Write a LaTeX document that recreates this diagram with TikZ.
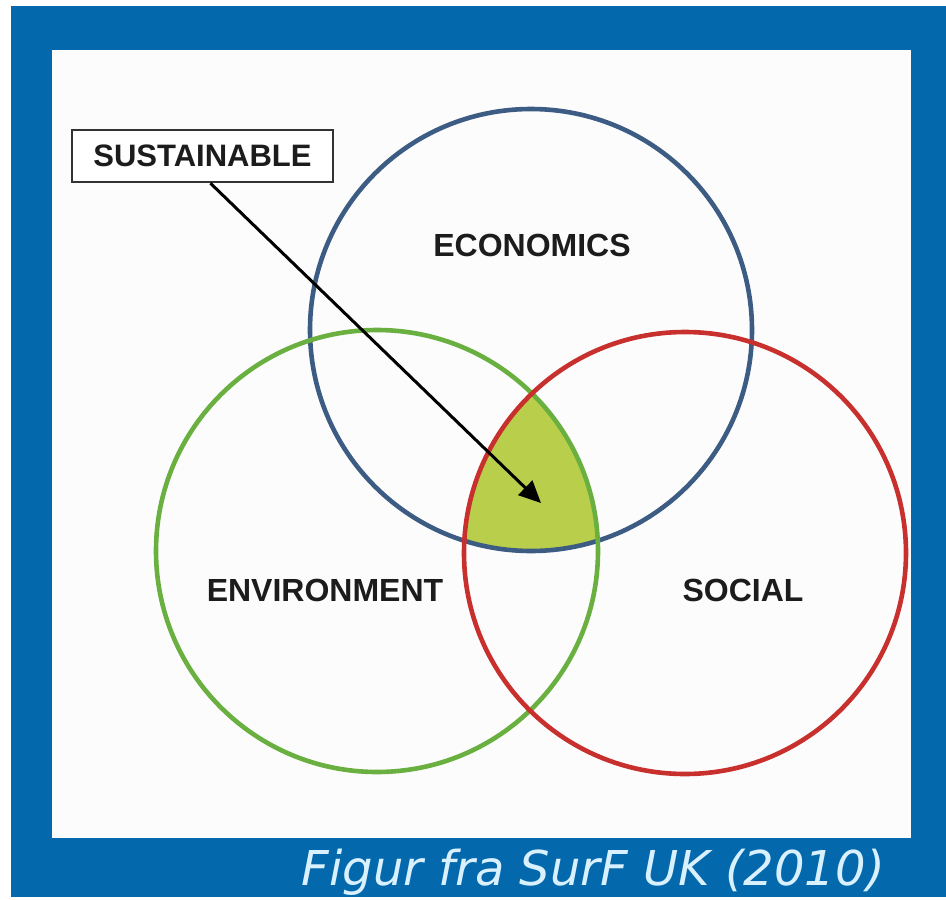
\documentclass[tikz,border=0pt]{standalone}
\usepackage{fontspec}
\setmainfont{Liberation Sans}
\newfontfamily\capfont{DejaVu Sans}
\usetikzlibrary{arrows.meta,calc}
\definecolor{framblue}{HTML}{0369AC}
\definecolor{econblue}{HTML}{3D5C84}
\definecolor{envgreen}{HTML}{6AB040}
\definecolor{socred}{HTML}{C8302E}
\definecolor{sustfill}{HTML}{B9CF4B}
\definecolor{captext}{HTML}{D9F1FF}
\definecolor{labtext}{HTML}{1C1C1C}
\definecolor{paper}{HTML}{FCFCFC}
\tikzset{
  circ/.style={line width=4.6pt},
  lab/.style={font=\fontsize{32}{38}\selectfont\bfseries, text=labtext, inner sep=0pt},
  sustbox/.style={draw=black!80, line width=2.4pt, fill=white, font=\fontsize{31}{36}\selectfont\bfseries, text=labtext, minimum width=261pt, minimum height=52pt, inner sep=0pt},
  pointer/.style={line width=3pt, black, -{Triangle[length=22pt,width=20pt]}}
}
\begin{document}
\begin{tikzpicture}[x=1pt,y=-1pt]
\useasboundingbox (0,0) rectangle (946,900);
\fill[white] (0,0) rectangle (946,900);
% frame
\fill[framblue] (11,6) rectangle (946,897);
\fill[paper] (52,50) rectangle (911,838);
% intersection fill
\begin{scope}
  \clip (531,330) circle (221);
  \clip (377,551) circle (221);
  \fill[sustfill] (685,553) circle (221);
\end{scope}
% circles
\draw[circ, econblue] (531,330) circle (221);
\draw[circ, envgreen] (377,551) circle (221);
\draw[circ, socred] (685,553) circle (221);
% labels
\node[lab] (econ) at (532,245) {ECONOMICS};
\node[lab] (env) at (325,590) {ENVIRONMENT};
\node[lab] (soc) at (743,590) {SOCIAL};
% sustainable box
\node[sustbox] (sus) at (202.5,156) {SUSTAINABLE};
\coordinate (tip) at (541,503);
\draw[pointer] ($(sus.south west)!0.53!(sus.south east)$) -- (tip);
% caption
\node[font=\capfont\itshape\fontsize{48}{54}\selectfont, text=captext, anchor=base east, inner sep=0pt] (cap) at (885,885) {Figur fra SurF UK (2010)};
\end{tikzpicture}
\end{document}
